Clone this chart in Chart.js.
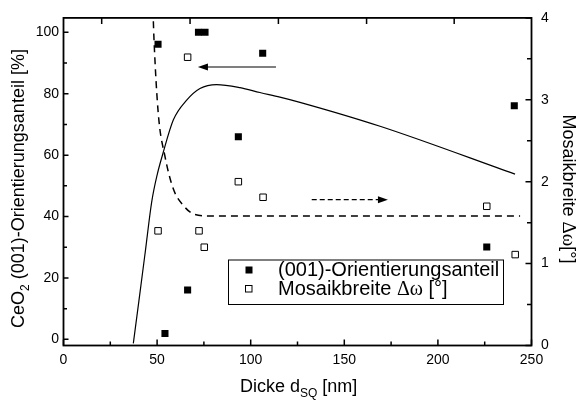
<!DOCTYPE html>
<html>
<head>
<meta charset="utf-8">
<script src="https://cdn.jsdelivr.net/npm/chart.js@4/dist/chart.umd.min.js"></script>
<style>
  html, body { margin: 0; padding: 0; background: #fff; }
  #wrap { width: 579px; height: 401px; }
</style>
</head>
<body>
<div id="wrap"><canvas id="chart"></canvas></div>
<script>
// (001)-Orientierungsanteil [%] -> left axis
const anteilX = [50.5, 54.2, 66.3, 72.1, 75.6, 93.4, 106.4, 226.1, 240.8];
const anteilY = [96.1, 1.9, 16.1, 100, 100, 66.0, 93.2, 30.1, 76.1];

// Mosaikbreite [deg] -> right axis
const mosaikX = [50.5, 66.3, 72.4, 75.2, 93.4, 106.6, 226.1, 241.3];
const mosaikY = [1.40, 3.52, 1.40, 1.20, 2.00, 1.81, 1.70, 1.11];

// solid guide line (left axis)
const fitX = [37.3, 40.3, 43.7, 47.1, 50.0, 53.0, 58.7, 65.8, 72.9, 81.8, 94.3, 104.9, 115.6, 126.3, 169.1, 241.2];
const fitY = [-1.3, 12.6, 28.6, 44.7, 53.5, 60.3, 71.5, 77.9, 81.7, 83.0, 82.0, 80.4, 78.9, 77.2, 69.4, 53.8];

// dashed guide line (right axis)
const dashX = [48.0, 48.3, 50.6, 54.2, 58.7, 64.0, 70.2, 80.9, 243.9];
const dashY = [3.96, 3.76, 2.84, 2.31, 1.91, 1.71, 1.60, 1.58, 1.58];

// arrows pointing at the axis they belong to
const arrowLeftX = [113.5, 71.8];
const arrowLeftY = 88.7;
const arrowRightX = [132.6, 173.3];
const arrowRightY = 1.78;

// ticks
const xTicks = [0, 50, 100, 150, 200, 250];
const xMinor = [25, 75, 125, 175, 225];
const topTicks = [20.4, 67.6, 114.8, 161.9, 208.7];
const yTicks = [0, 20, 40, 60, 80, 100];
const yMinor = [10, 30, 50, 70, 90];
const y2Ticks = [0, 1, 2, 3, 4];
const y2Minor = [0.5, 1.5, 2.5, 3.5];

const SANS = "'Liberation Sans', Arial, sans-serif";
const SERIF = "'Liberation Serif', 'Times New Roman', serif";

Chart.defaults.font.family = SANS;
Chart.defaults.font.size = 14;
Chart.defaults.color = '#000';

function pts(xs, ys) {
    return xs.map((v, i) => ({ x: v, y: ys[i] }));
}

// draws a list of text pieces one after another, returns total width
function runs(ctx, parts, x, y, measureOnly) {
    let w = 0;
    parts.forEach(p => {
        ctx.font = p.font;
        if (!measureOnly) ctx.fillText(p.t, x + w, y + (p.dy || 0));
        w += ctx.measureText(p.t).width;
    });
    return w;
}

function arrowHead(ctx, x, y, dir) {
    ctx.beginPath();
    ctx.moveTo(x, y);
    ctx.lineTo(x - dir * 10, y - 3.5);
    ctx.lineTo(x - dir * 10, y + 3.5);
    ctx.closePath();
    ctx.fill();
}

const decor = {
    id: 'decor',
    afterDatasetsDraw(chart) {
        const { ctx, chartArea: a, scales } = chart;
        const x = scales.x, y = scales.y, y2 = scales.y2;
        ctx.save();
        ctx.strokeStyle = '#000';
        ctx.fillStyle = '#000';

        // arrows
        ctx.lineWidth = 1.2;
        let py = y.getPixelForValue(arrowLeftY);
        let p0 = x.getPixelForValue(arrowLeftX[0]), p1 = x.getPixelForValue(arrowLeftX[1]);
        ctx.beginPath(); ctx.moveTo(p0, py); ctx.lineTo(p1 + 8, py); ctx.stroke();
        arrowHead(ctx, p1, py, -1);

        py = y2.getPixelForValue(arrowRightY);
        p0 = x.getPixelForValue(arrowRightX[0]); p1 = x.getPixelForValue(arrowRightX[1]);
        ctx.setLineDash([5, 3]);
        ctx.beginPath(); ctx.moveTo(p0, py); ctx.lineTo(p1 - 8, py); ctx.stroke();
        ctx.setLineDash([]);
        arrowHead(ctx, p1, py, 1);

        // inward ticks
        ctx.lineWidth = 1.5;
        ctx.beginPath();
        xTicks.forEach(v => { const p = x.getPixelForValue(v); ctx.moveTo(p, a.bottom); ctx.lineTo(p, a.bottom - 6); });
        xMinor.forEach(v => { const p = x.getPixelForValue(v); ctx.moveTo(p, a.bottom); ctx.lineTo(p, a.bottom - 4); });
        topTicks.forEach(v => { const p = x.getPixelForValue(v); ctx.moveTo(p, a.top); ctx.lineTo(p, a.top + 6); });
        yTicks.forEach(v => { const p = y.getPixelForValue(v); ctx.moveTo(a.left, p); ctx.lineTo(a.left + 5, p); });
        yMinor.forEach(v => { const p = y.getPixelForValue(v); ctx.moveTo(a.left, p); ctx.lineTo(a.left + 3.5, p); });
        y2Ticks.forEach(v => { const p = y2.getPixelForValue(v); ctx.moveTo(a.right, p); ctx.lineTo(a.right - 6, p); });
        y2Minor.forEach(v => { const p = y2.getPixelForValue(v); ctx.moveTo(a.right, p); ctx.lineTo(a.right - 4.5, p); });
        ctx.stroke();

        // frame
        ctx.lineWidth = 1.8;
        ctx.strokeRect(a.left, a.top, a.right - a.left, a.bottom - a.top);
        ctx.restore();
    },
    afterDraw(chart) {
        const { ctx } = chart;
        ctx.save();
        ctx.fillStyle = '#000';
        ctx.textBaseline = 'alphabetic';
        ctx.textAlign = 'left';

        // left title
        const f18 = '18px ' + SANS, f12 = '12px ' + SANS;
        const left = [
            { t: 'CeO', font: f18 },
            { t: '2', font: f12, dy: 5 },
            { t: ' (001)-Orientierungsanteil [%]', font: f18 }
        ];
        let w = runs(ctx, left, 0, 0, true);
        ctx.save();
        ctx.translate(23.5, 188.5);
        ctx.rotate(-Math.PI / 2);
        runs(ctx, left, -w / 2, 0);
        ctx.restore();

        // right title
        const right = [
            { t: 'Mosaikbreite ', font: f18 },
            { t: 'Δω', font: '19px ' + SERIF },
            { t: '[°]', font: f18 }
        ];
        w = runs(ctx, right, 0, 0, true);
        ctx.save();
        ctx.translate(563, 189);
        ctx.rotate(Math.PI / 2);
        runs(ctx, right, -w / 2, 0);
        ctx.restore();

        // bottom title
        const bottom = [
            { t: 'Dicke d', font: f18 },
            { t: 'SQ', font: f12, dy: 5 },
            { t: ' [nm]', font: f18 }
        ];
        runs(ctx, bottom, 240, 391.5);

        // legend
        ctx.fillStyle = '#fff';
        ctx.fillRect(228, 260, 275, 44.5);
        ctx.strokeStyle = '#000';
        ctx.lineWidth = 1;
        ctx.strokeRect(228.5, 260, 275, 44.5);
        ctx.fillStyle = '#000';
        ctx.fillRect(245.5, 266.5, 7, 7);
        ctx.fillStyle = '#fff';
        ctx.fillRect(245.5, 285.5, 6.5, 6.5);
        ctx.strokeRect(245.5, 285.5, 6.5, 6.5);
        ctx.fillStyle = '#000';
        const f20 = '20px ' + SANS;
        runs(ctx, [{ t: '(001)-Orientierungsanteil', font: f20 }], 278, 275.5);
        runs(ctx, [
            { t: 'Mosaikbreite ', font: f20 },
            { t: 'Δω', font: '20px ' + SERIF },
            { t: ' [°]', font: f20 }
        ], 278, 294.5);
        ctx.restore();
    }
};

new Chart(document.getElementById('chart'), {
    type: 'scatter',
    data: {
        datasets: [
            {
                label: 'fit',
                data: pts(fitX, fitY),
                yAxisID: 'y',
                showLine: true,
                borderColor: '#000',
                borderWidth: 1.2,
                pointRadius: 0,
                cubicInterpolationMode: 'monotone'
            },
            {
                label: 'dash',
                data: pts(dashX, dashY),
                yAxisID: 'y2',
                showLine: true,
                borderColor: '#000',
                borderWidth: 1.5,
                borderDash: [7, 5],
                pointRadius: 0,
                cubicInterpolationMode: 'monotone'
            },
            {
                label: '(001)-Orientierungsanteil',
                data: pts(anteilX, anteilY),
                yAxisID: 'y',
                pointStyle: 'rect',
                pointRadius: 5,
                backgroundColor: '#000',
                borderColor: '#000',
                borderWidth: 0
            },
            {
                label: 'Mosaikbreite Δω [°]',
                data: pts(mosaikX, mosaikY),
                yAxisID: 'y2',
                pointStyle: 'rect',
                pointRadius: 4.6,
                backgroundColor: '#fff',
                borderColor: '#000',
                borderWidth: 1
            }
        ]
    },
    options: {
        responsive: true,
        maintainAspectRatio: false,
        animation: false,
        events: [],
        layout: { padding: { top: 13.3, left: 0, right: 0, bottom: 0 } },
        plugins: { legend: { display: false }, tooltip: { enabled: false } },
        scales: {
            x: {
                type: 'linear',
                min: 0,
                max: 250,
                grid: { display: false, drawTicks: false },
                border: { display: false },
                ticks: { stepSize: 50, padding: 6, maxRotation: 0 },
                afterFit(s) { s.height = 55.5; }
            },
            y: {
                position: 'left',
                min: -2,
                max: 104.7,
                grid: { display: false, drawTicks: false },
                border: { display: false },
                ticks: { padding: 4.5 },
                afterBuildTicks(s) { s.ticks = yTicks.map(v => ({ value: v })); },
                afterFit(s) { s.width = 63.5; }
            },
            y2: {
                position: 'right',
                min: 0,
                max: 4,
                grid: { display: false, drawTicks: false },
                border: { display: false },
                ticks: { padding: 9.5 },
                afterBuildTicks(s) { s.ticks = y2Ticks.map(v => ({ value: v })); },
                afterFit(s) { s.width = 47.5; }
            }
        }
    },
    plugins: [decor]
});
</script>
</body>
</html>
